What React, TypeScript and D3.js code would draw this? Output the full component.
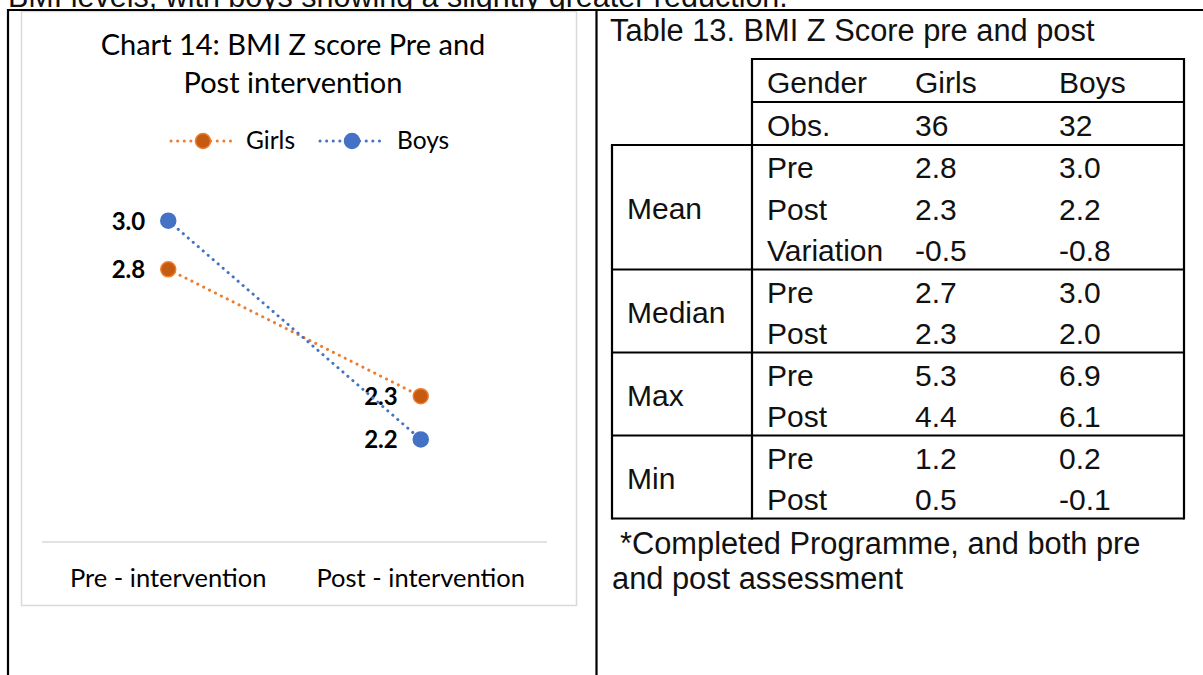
import { useMemo } from "react";
import * as d3 from "d3";

// chart data (labels rounded to 1 dp)
const categories = ["Pre - intervention", "Post - intervention"];
const seriesNames = ["Girls", "Boys"];
const girlsValues = [2.81, 2.34];
const boysValues = [2.99, 2.18];
const seriesColors = ["#ED7D31", "#4472C4"];
const markerFills = ["#C55A11", "#4472C4"];

// table 13 data
const headerRow = ["Gender", "Girls", "Boys"];
const obsRow = ["Obs.", "36", "32"];
const groupNames = ["Mean", "Median", "Max", "Min"];
const meanRows = [
  ["Pre", "2.8", "3.0"],
  ["Post", "2.3", "2.2"],
  ["Variation", "-0.5", "-0.8"],
];
const medianRows = [
  ["Pre", "2.7", "3.0"],
  ["Post", "2.3", "2.0"],
];
const maxRows = [
  ["Pre", "5.3", "6.9"],
  ["Post", "4.4", "6.1"],
];
const minRows = [
  ["Pre", "1.2", "0.2"],
  ["Post", "0.5", "-0.1"],
];

const W = 1203;
const H = 675;
const chartFont = "Lato, 'Open Sans', sans-serif";
const tableFont = "'Liberation Sans', Arial, sans-serif";

function Chart() {
  const x = d3.scalePoint<string>().domain(categories).range([42, 547]).padding(0.5);
  const y = d3.scaleLinear().domain([1.8, 3.2]).range([542, 164]);
  const fmt = d3.format(".1f");
  const series = [girlsValues, boysValues];
  const line = d3
    .line<number>()
    .x((_, i) => x(categories[i]) as number)
    .y((d) => y(d));

  const legendItems = [
    { name: seriesNames[0], cx: 203, tx: 246 },
    { name: seriesNames[1], cx: 352, tx: 397 },
  ];

  return (
    <g>
      <rect x={21.5} y={11.5} width={555} height={594} fill="#fff" stroke="#d9d9d9" strokeWidth={1.5} />
      <text x={293} y={55} textAnchor="middle" fontFamily={chartFont} fontSize={29} fill="#000">
        Chart 14: BMI Z score Pre and
      </text>
      <text x={293} y={93} textAnchor="middle" fontFamily={chartFont} fontSize={29} fill="#000">
        Post intervention
      </text>

      {/* legend */}
      {legendItems.map((d, i) => (
        <g key={d.name}>
          <line
            x1={d.cx - 32}
            x2={d.cx + 32}
            y1={141}
            y2={141}
            stroke={seriesColors[i]}
            strokeWidth={3}
            strokeDasharray="0.1 6.5"
            strokeLinecap="round"
          />
          <circle cx={d.cx} cy={141} r={7.5} fill={markerFills[i]} stroke={seriesColors[i]} strokeWidth={1.5} />
          <text x={d.tx} y={149} fontFamily={chartFont} fontSize={24.5} fill="#000">
            {d.name}
          </text>
        </g>
      ))}

      {/* category axis */}
      <line x1={42} x2={547} y1={542} y2={542} stroke="#d9d9d9" strokeWidth={1.5} />
      {categories.map((c) => (
        <text key={c} x={x(c)} y={587} textAnchor="middle" fontFamily={chartFont} fontSize={25.5} fill="#000">
          {c}
        </text>
      ))}

      {/* series */}
      {series.map((vals, si) => (
        <g key={seriesNames[si]}>
          <path
            d={line(vals) ?? ""}
            fill="none"
            stroke={seriesColors[si]}
            strokeWidth={3}
            strokeDasharray="0.1 6.5"
            strokeLinecap="round"
          />
          {vals.map((v, i) => (
            <circle
              key={i}
              cx={x(categories[i])}
              cy={y(v)}
              r={7.5}
              fill={markerFills[si]}
              stroke={seriesColors[si]}
              strokeWidth={1.5}
            />
          ))}
          {vals.map((v, i) => (
            <text
              key={"l" + i}
              x={(x(categories[i]) as number) - 23}
              y={y(v) + 9}
              textAnchor="end"
              fontFamily={chartFont}
              fontWeight="bold"
              fontSize={24}
              fill="#000"
            >
              {fmt(v)}
            </text>
          ))}
        </g>
      ))}
    </g>
  );
}

function Table() {
  const left = 612;
  const colLine = 752;
  const right = 1184;
  const colX = [767, 915, 1059];
  const groupX = 627;
  const top = 59;
  const headH = 43;
  const rowH = 41.5;
  const groups = [meanRows, medianRows, maxRows, minRows];

  let cursor = top + 2 * headH;
  const layout = groups.map((rows, gi) => {
    const g = { name: groupNames[gi], rows, y0: cursor, y1: cursor + rows.length * rowH };
    cursor = g.y1;
    return g;
  });
  const bottom = cursor;
  const txt = { fontFamily: tableFont, fontSize: 30, fill: "#111" };

  return (
    <g>
      <text x={610} y={41} {...txt} fontSize={30.8}>
        Table 13. BMI Z Score pre and post
      </text>

      {[headerRow, obsRow].map((r, ri) =>
        r.map((c, ci) => (
          <text key={`h${ri}${ci}`} x={colX[ci]} y={top + ri * headH + 34} {...txt}>
            {c}
          </text>
        ))
      )}
      {layout.map((g) => (
        <g key={g.name}>
          <text x={groupX} y={(g.y0 + g.y1) / 2 + 12} {...txt}>
            {g.name}
          </text>
          {g.rows.map((r, ri) =>
            r.map((c, ci) => (
              <text key={`${ri}${ci}`} x={colX[ci]} y={g.y0 + 33 + ri * rowH} {...txt}>
                {c}
              </text>
            ))
          )}
        </g>
      ))}

      <g stroke="#000" strokeWidth={2.2} fill="none">
        <line x1={colLine} x2={right} y1={top} y2={top} />
        <line x1={colLine} x2={right} y1={top + headH} y2={top + headH} />
        <line x1={left} x2={right} y1={top + 2 * headH} y2={top + 2 * headH} />
        {layout.map((g) => (
          <line key={g.name} x1={left} x2={right} y1={g.y1} y2={g.y1} />
        ))}
        <line x1={colLine} x2={colLine} y1={top - 1} y2={bottom + 1} />
        <line x1={right} x2={right} y1={top - 1} y2={bottom + 1} />
        <line x1={left} x2={left} y1={top + 2 * headH - 1} y2={bottom + 1} />
      </g>

      <text x={620} y={554} {...txt} fontSize={30.8}>
        *Completed Programme, and both pre
      </text>
      <text x={612} y={589} {...txt} fontSize={30.8}>
        and post assessment
      </text>
    </g>
  );
}

export default function App() {
  const bg = useMemo(() => ({ position: "absolute" as const, left: 0, top: 0, background: "#fff" }), []);
  return (
    <svg width={W} height={H} style={bg}>
      <rect width={W} height={H} fill="#fff" />
      {/* cut-off paragraph line above the layout table */}
      <text x={8} y={7} fontFamily={tableFont} fontSize={30.5} fill="#111">
        BMI levels, with boys showing a slightly greater reduction.
      </text>
      <rect x={0} y={9} width={W} height={H} fill="#fff" />

      <Chart />
      <Table />

      {/* layout table borders */}
      <g stroke="#000" strokeWidth={2.2}>
        <line x1={7} x2={W} y1={10} y2={10} />
        <line x1={8} x2={8} y1={9} y2={H} />
        <line x1={596.5} x2={596.5} y1={9} y2={H} />
      </g>
    </svg>
  );
}
